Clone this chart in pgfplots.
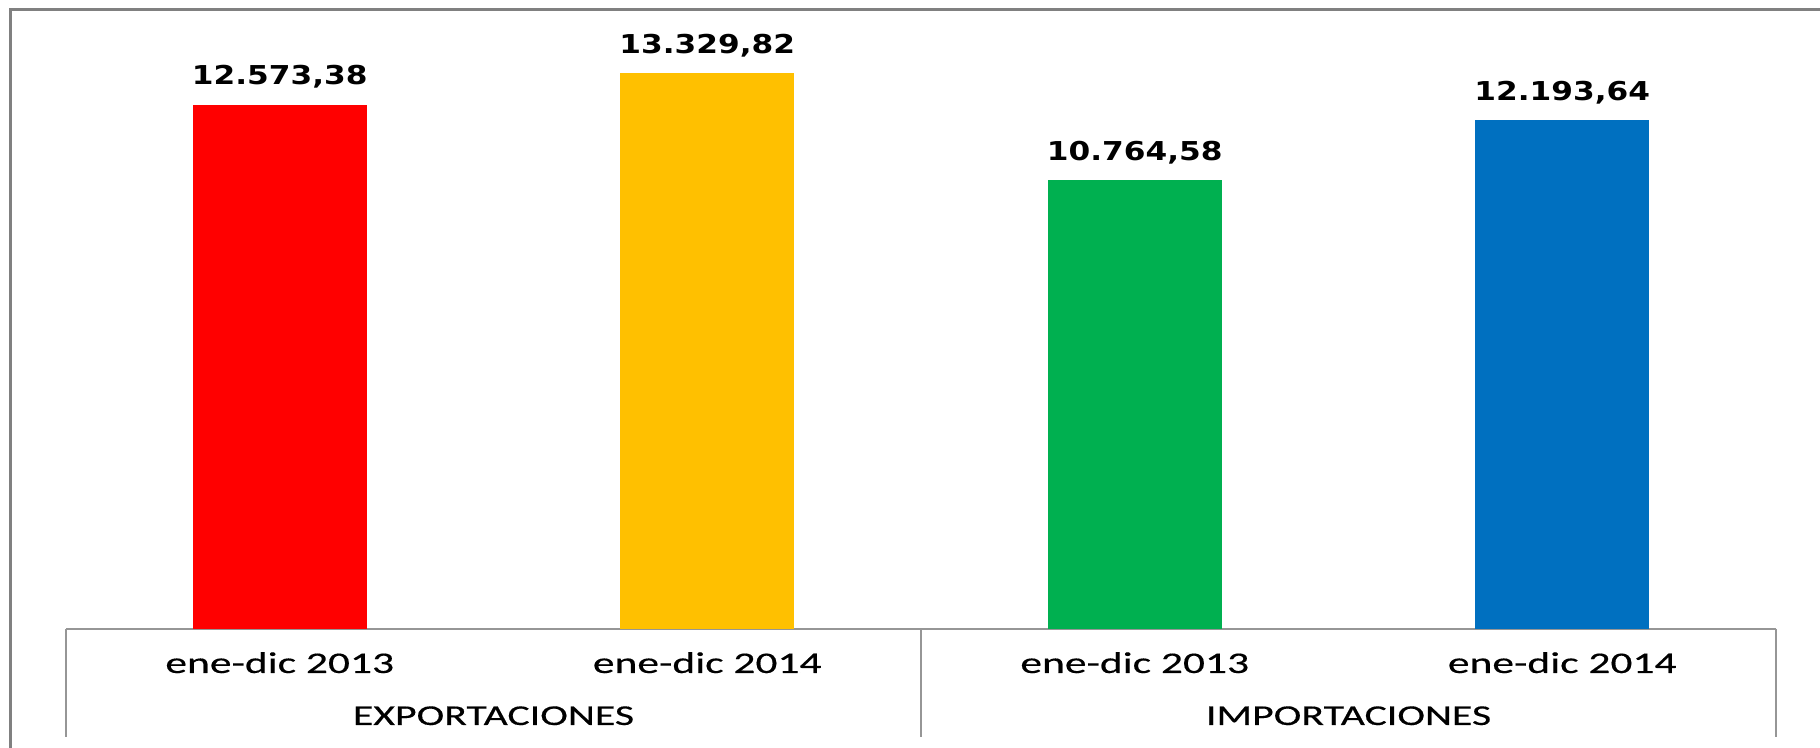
\documentclass[border=0pt]{standalone}
\usepackage{fontspec}
\setmainfont[FakeStretch=1.45,FakeBold=0.4]{Carlito}
\newfontfamily\valfont[FakeStretch=1.2,BoldFont={DejaVu Sans Bold}]{DejaVu Sans}
\usepackage{pgfplots}
\pgfplotsset{compat=1.18}
\definecolor{cred}{RGB}{255,0,0}
\definecolor{cyel}{RGB}{255,192,0}
\definecolor{cgrn}{RGB}{0,176,80}
\definecolor{cblu}{RGB}{0,112,192}
\definecolor{lgray}{RGB}{150,150,150}
\definecolor{fgray}{RGB}{128,128,128}
\begin{document}
\begin{tikzpicture}
\useasboundingbox (0,0) rectangle (910pt,374pt);
\draw[fgray, line width=1.5pt] (5pt,0) -- (5pt,369.25pt) -- (911pt,369.25pt);
\begin{axis}[
  at={(33pt,59.5pt)}, anchor=south west,
  scale only axis, width=855pt, height=309.5pt,
  xmin=-0.5, xmax=3.5, ymin=0, ymax=14843,
  axis x line*=bottom, axis y line=none,
  x axis line style={lgray, line width=0.75pt},
  xtick={0,1,2,3},
  xticklabels={ene-dic 2013, ene-dic 2014, ene-dic 2013, ene-dic 2014},
  xtick style={draw=none}, major tick length=0pt,
  ytick=\empty,
  xticklabel style={anchor=base, yshift=-22pt, inner sep=0pt, font=\fontsize{15}{17}\selectfont},
  clip=false,
  ybar, bar width=87pt, bar shift=0pt,
  point meta=explicit symbolic,
  nodes near coords,
  every node near coord/.append style={font=\valfont\bfseries\fontsize{13}{15}\selectfont, anchor=base, inner sep=0pt, yshift=10pt, text=black},
]
\addplot[fill=cred, draw=none] coordinates {(0,12573.38) [12.573{,}38]};
\addplot[fill=cyel, draw=none] coordinates {(1,13329.82) [13.329{,}82]};
\addplot[fill=cgrn, draw=none] coordinates {(2,10764.58) [10.764{,}58]};
\addplot[fill=cblu, draw=none] coordinates {(3,12193.64) [12.193{,}64]};
\draw[lgray, line width=0.75pt] (axis cs:-0.5,0) -- ++(0pt,-54pt);
\draw[lgray, line width=0.75pt] (axis cs:1.5,0) -- ++(0pt,-54pt);
\draw[lgray, line width=0.75pt] (axis cs:3.5,0) -- ++(0pt,-54pt);
\node[anchor=base, yshift=-48pt, inner sep=0pt, font=\fontsize{14.4}{16}\selectfont] at (axis cs:0.5,0) {EXPORTACIONES};
\node[anchor=base, yshift=-48pt, inner sep=0pt, font=\fontsize{14.4}{16}\selectfont] at (axis cs:2.5,0) {IMPORTACIONES};
\end{axis}
\end{tikzpicture}
\end{document}
